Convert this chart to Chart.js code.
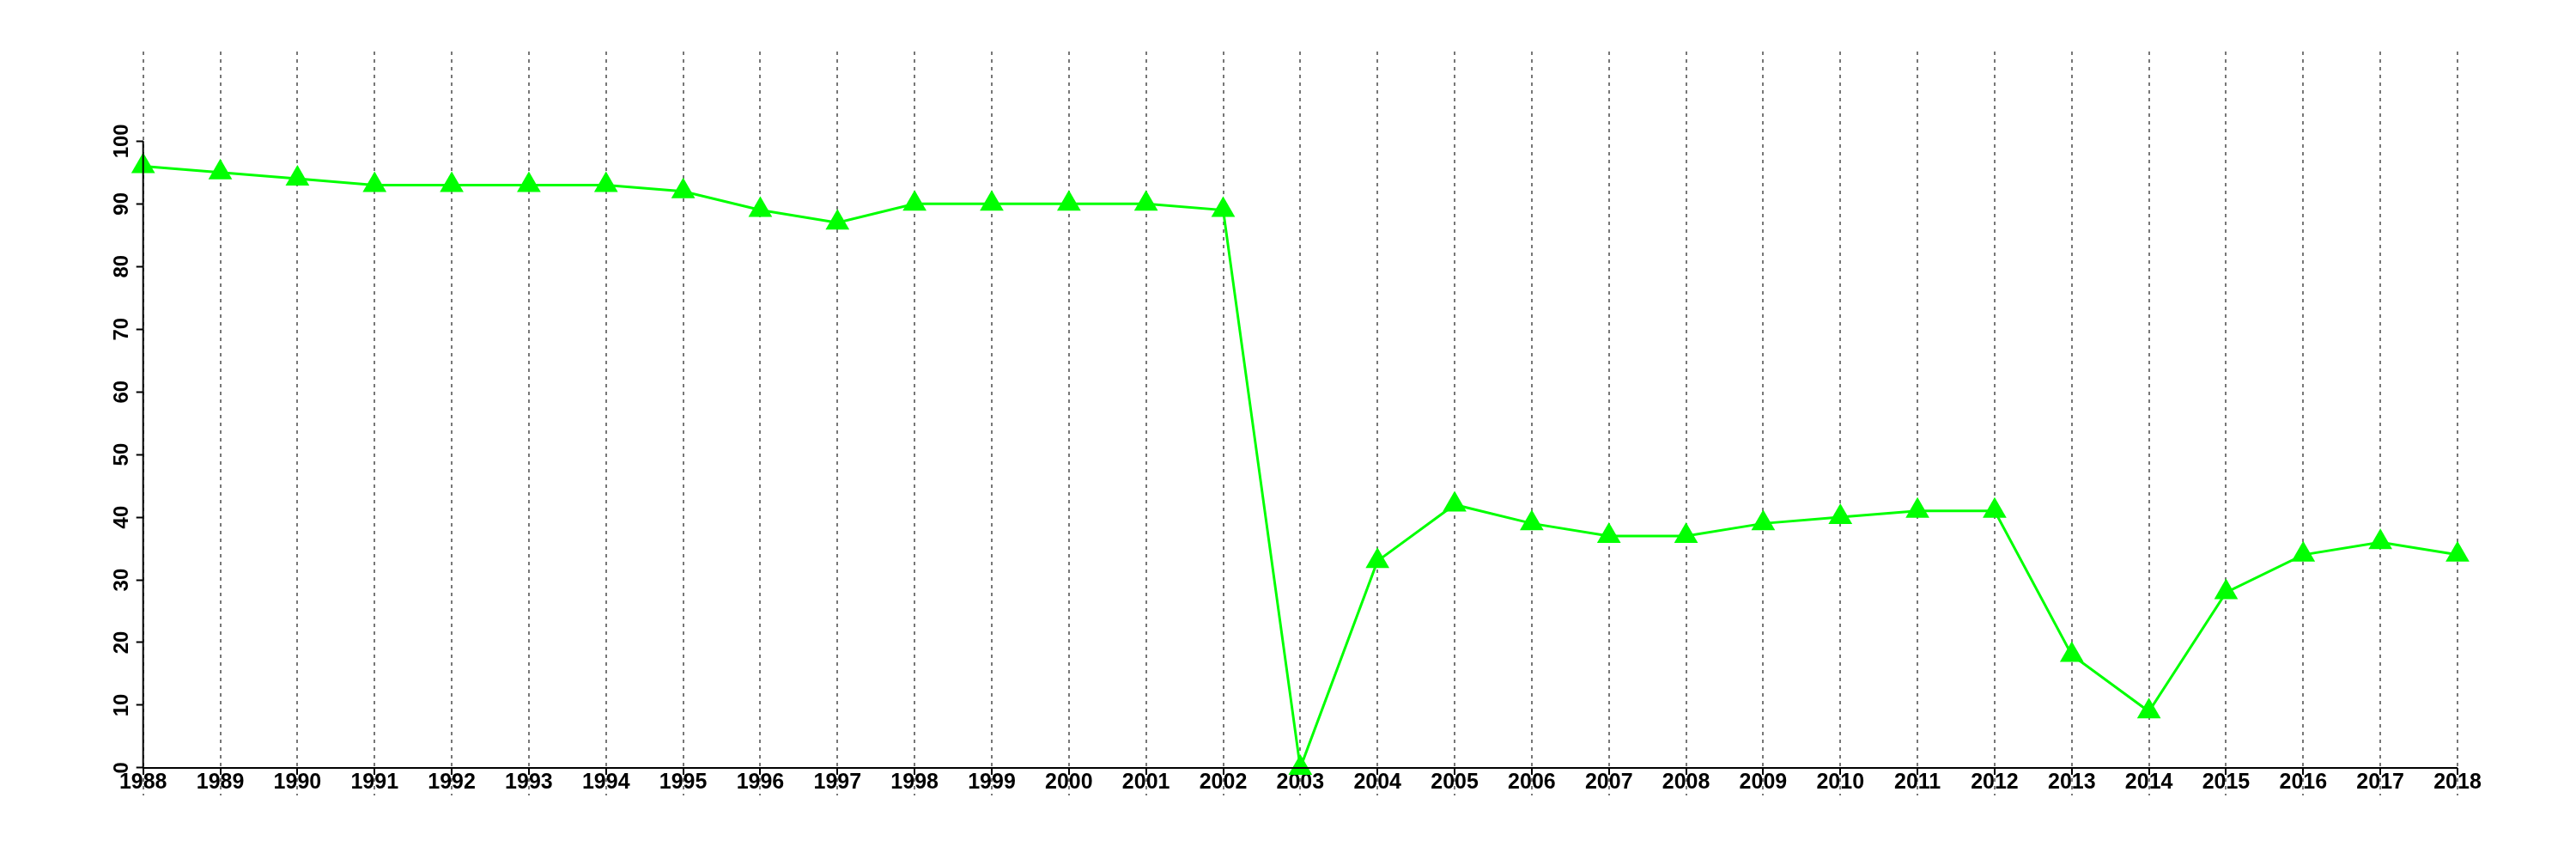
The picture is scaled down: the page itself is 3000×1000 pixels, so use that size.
<!DOCTYPE html>
<html>
<head>
<meta charset="utf-8">
<script src="https://cdn.jsdelivr.net/npm/chart.js@4/dist/chart.umd.min.js"></script>
<style>
  html, body { margin: 0; padding: 0; background: #fff; }
  canvas { display: block; }
</style>
</head>
<body>
<canvas id="chart" width="3000" height="1000"></canvas>
<script>
// yearly values
const years = ['1988', '1989', '1990', '1991', '1992', '1993', '1994', '1995', '1996', '1997',
  '1998', '1999', '2000', '2001', '2002', '2003', '2004', '2005', '2006', '2007',
  '2008', '2009', '2010', '2011', '2012', '2013', '2014', '2015', '2016', '2017', '2018'];
const values = [96, 95, 94, 93, 93, 93, 93, 92, 89, 87,
  90, 90, 90, 90, 89, 0, 33, 42, 39, 37,
  37, 39, 40, 41, 41, 18, 9, 28, 34, 36, 34];
const yTicks = [0, 10, 20, 30, 40, 50, 60, 70, 80, 90, 100];

const FONT = '"Liberation Sans", Arial, sans-serif';

// axis lines (x full width at y=0, y only 0..100) and rotated y labels
const axesPlugin = {
  id: 'axesPlugin',
  afterDraw(chart) {
    const ctx = chart.ctx;
    const y = chart.scales.y;
    const area = chart.chartArea;
    const y0 = y.getPixelForValue(0);
    ctx.save();
    ctx.strokeStyle = '#000';
    ctx.lineWidth = 2;
    ctx.setLineDash([]);
    ctx.beginPath();
    ctx.moveTo(area.left, y0);
    ctx.lineTo(area.right, y0);
    ctx.moveTo(area.left, y0);
    ctx.lineTo(area.left, y.getPixelForValue(yTicks[yTicks.length - 1]));
    ctx.stroke();

    ctx.fillStyle = '#000';
    ctx.font = 'bold 24px ' + FONT;
    ctx.textAlign = 'center';
    ctx.textBaseline = 'middle';
    yTicks.forEach((t) => {
      ctx.save();
      ctx.translate(area.left - 24, y.getPixelForValue(t));
      ctx.rotate(-Math.PI / 2);
      ctx.fillText(String(t), 0, 0);
      ctx.restore();
    });
    ctx.restore();
  }
};

new Chart(document.getElementById('chart'), {
  type: 'line',
  data: {
    labels: years,
    datasets: [{
      data: values,
      borderColor: '#00ff00',
      borderWidth: 3,
      backgroundColor: '#00ff00',
      pointStyle: 'triangle',
      pointRadius: 16,
      pointBorderWidth: 0,
      pointBackgroundColor: '#00ff00',
      tension: 0,
      fill: false,
      clip: false
    }]
  },
  options: {
    responsive: false,
    animation: false,
    layout: { padding: { left: 166.7, right: 138, top: 60, bottom: 74 } },
    plugins: { legend: { display: false }, tooltip: { enabled: false } },
    scales: {
      x: {
        type: 'category',
        offset: false,
        position: { y: 0 },
        afterFit: (s) => { s.height = 0; },
        grid: {
          color: '#777',
          lineWidth: 2,
          drawTicks: true,
          tickLength: 8,
          tickColor: '#000',
          tickWidth: 2,
          tickBorderDash: []
        },
        border: { display: false, dash: [4, 5] },
        ticks: {
          autoSkip: false,
          maxRotation: 0,
          padding: -3,
          color: '#000',
          font: { family: FONT, size: 25, weight: 'bold', lineHeight: 1 }
        }
      },
      y: {
        type: 'linear',
        min: -4.4,
        max: 114.3,
        afterBuildTicks: (s) => { s.ticks = yTicks.map((v) => ({ value: v })); },
        afterFit: (s) => { s.width = 0; },
        grid: {
          drawOnChartArea: false,
          drawTicks: true,
          tickLength: 8,
          tickColor: '#000',
          tickWidth: 2
        },
        border: { display: false },
        ticks: { display: false }
      }
    }
  },
  plugins: [axesPlugin]
});
</script>
</body>
</html>
